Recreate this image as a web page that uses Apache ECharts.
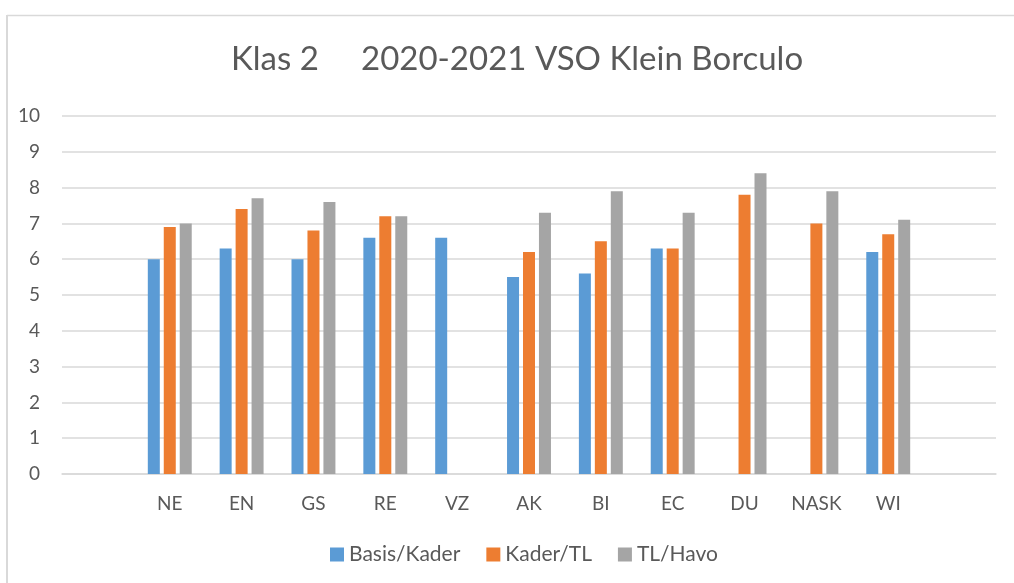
<!DOCTYPE html>
<html>
<head>
<meta charset="utf-8">
<script src="https://cdn.jsdelivr.net/npm/echarts@6/dist/echarts.min.js"></script>
<style>
  html, body { margin: 0; padding: 0; background: #fff; }
  #chart { width: 1014px; height: 583px; }
</style>
</head>
<body>
<div id="chart"></div>
<script>
// vakken (lege kolommen aan begin en eind zoals in het origineel)
const subjects = ['', 'NE', 'EN', 'GS', 'RE', 'VZ', 'AK', 'BI', 'EC', 'DU', 'NASK', 'WI', '']
const basisKader = [null, 6.0, 6.3, 6.0, 6.6, 6.6, 5.5, 5.6, 6.3, null, null, 6.2, null]
const kaderTL    = [null, 6.9, 7.4, 6.8, 7.2, null, 6.2, 6.5, 6.3, 7.8, 7.0, 6.7, null]
const tlHavo     = [null, 7.0, 7.7, 7.6, 7.2, null, 7.3, 7.9, 7.3, 8.4, 7.9, 7.1, null]
const yTicks = [0, 10, 1] // min, max, interval

const fontFam = 'Lato, "Open Sans", sans-serif'
const txtColor = '#595959'

const chart = echarts.init(document.getElementById('chart'))

function barSeries(name, data, color) {
  return {
    name: name,
    type: 'bar',
    data: data,
    barWidth: 12,
    barGap: '33%',
    barCategoryGap: '39%',
    itemStyle: { color: color },
    emphasis: { disabled: true }
  }
}

const option = {
  animation: false,
  backgroundColor: '#fff',
  textStyle: { fontFamily: fontFam },
  title: {
    text: 'Klas 2     2020-2021 VSO Klein Borculo',
    left: 512,
    top: 38,
    textAlign: 'center',
    textStyle: { fontFamily: fontFam, fontSize: 33, fontWeight: 'normal', color: txtColor }
  },
  // kader links en boven
  graphic: [
    { type: 'line', shape: { x1: 7, y1: 15.5, x2: 1014, y2: 15.5 }, style: { stroke: '#d9d9d9', lineWidth: 1.5 } },
    { type: 'line', shape: { x1: 7, y1: 15, x2: 7, y2: 583 }, style: { stroke: '#d9d9d9', lineWidth: 2 } }
  ],
  legend: {
    bottom: 13,
    left: 325,
    itemWidth: 14,
    itemHeight: 14,
    itemGap: 26,
    icon: 'rect',
    textStyle: { fontFamily: fontFam, fontSize: 21, color: txtColor },
    data: ['Basis/Kader', 'Kader/TL', 'TL/Havo']
  },
  grid: { left: 62, right: 18, top: 116, bottom: 109, containLabel: false },
  xAxis: {
    type: 'category',
    data: subjects,
    axisTick: { show: false },
    axisLine: { show: true, lineStyle: { color: '#d9d9d9', width: 1.5 } },
    axisLabel: { fontFamily: fontFam, fontSize: 19, color: txtColor, margin: 20, interval: 0 }
  },
  yAxis: {
    type: 'value',
    min: yTicks[0],
    max: yTicks[1],
    interval: yTicks[2],
    axisLine: { show: false },
    axisTick: { show: false },
    splitLine: { lineStyle: { color: '#d9d9d9', width: 1.5 } },
    axisLabel: { fontFamily: fontFam, fontSize: 19, color: txtColor, margin: 22 }
  },
  series: [
    barSeries('Basis/Kader', basisKader, '#5b9bd5'),
    barSeries('Kader/TL', kaderTL, '#ed7d31'),
    barSeries('TL/Havo', tlHavo, '#a5a5a5')
  ]
}

chart.setOption(option)
</script>
</body>
</html>
